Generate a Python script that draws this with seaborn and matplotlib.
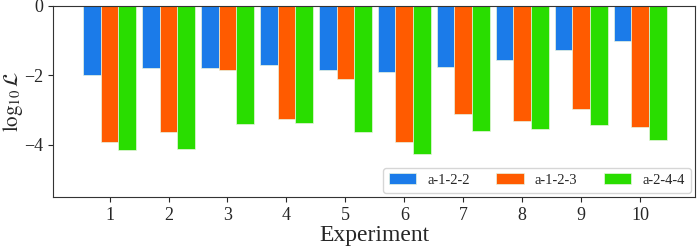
import pandas as pd
import seaborn as sns
import matplotlib.pyplot as plt

# ----- Data -----
experiments = [str(i) for i in range(1, 11)]
a_1_2_2 = [-1.99, -1.80, -1.79, -1.71, -1.85, -1.89, -1.77, -1.56, -1.27, -1.02]
a_1_2_3 = [-3.93, -3.62, -1.85, -3.25, -2.11, -3.93, -3.11, -3.30, -2.97, -3.50]
a_2_4_4 = [-4.15, -4.13, -3.39, -3.38, -3.64, -4.25, -3.61, -3.54, -3.43, -3.86]
series_names = ['a-1-2-2', 'a-1-2-3', 'a-2-4-4']
colors = ['#1b7be9', '#ff5b00', '#29dd00']

df = pd.DataFrame({'Experiment': experiments * 3,
                   'value': a_1_2_2 + a_1_2_3 + a_2_4_4,
                   'series': [s for s in series_names for _ in experiments]})

# ----- Plot -----
sns.set_style('ticks')
plt.rcParams.update({'font.family': ['Liberation Serif', 'DejaVu Serif'],
                     'mathtext.fontset': 'stix', 'font.size': 13})

fig = plt.figure(figsize=(6.97, 2.48), dpi=100)
ax = fig.add_axes([0.076, 0.206, 0.921, 0.770])
sns.barplot(data=df, x='Experiment', y='value', hue='series', palette=colors,
            width=0.9, saturation=1, edgecolor='#e8f5e0', linewidth=0.5, ax=ax)

ax.set_xlim(-0.96, 9.93)
ax.set_ylim(-5.5, 0)
ax.set_yticks([0, -2, -4])
ax.set_yticklabels(['0', '\u22122', '\u22124'])
ax.tick_params(labelsize=13)
ax.set_xlabel('Experiment', fontsize=17, labelpad=1)
ax.set_ylabel(r'$\log_{10}\mathcal{L}$', fontsize=15)
ax.yaxis.set_label_coords(-0.044, 0.5)
leg = ax.legend(loc='lower right', ncol=3, fontsize=10.5, frameon=True,
                handlelength=1.9, handleheight=0.7, handletextpad=0.75,
                columnspacing=1.8, borderaxespad=0.3, borderpad=0.4)
leg.get_frame().set_edgecolor('#cccccc')
for s in ax.spines.values():
    s.set_color('#333333')

fig.savefig('out.png', dpi=100)
